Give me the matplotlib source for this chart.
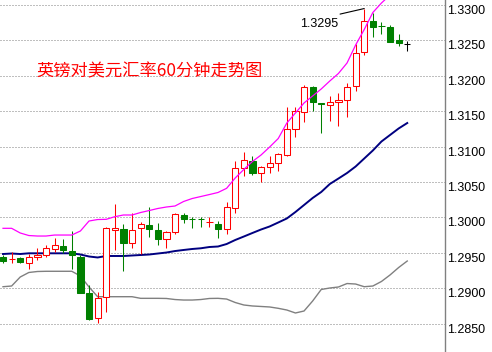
#!/usr/bin/env python
"""英镑对美元汇率 60 分钟 K 线走势图（带上/中/下轨）。

输出：out.png（492x352）
"""

import matplotlib

matplotlib.use("Agg")
import matplotlib.pyplot as plt
import numpy as np

# ============================================================
# 字体与样式配置
# ============================================================
plt.rcParams["font.family"] = ["Liberation Sans", "Noto Sans CJK SC", "DejaVu Sans"]
plt.rcParams["axes.unicode_minus"] = False

UP_COLOR = "#FF0000"
DOWN_COLOR = "#008000"
LAST_COLOR = "#000000"
UPPER_COLOR = "#FF00FF"
MIDDLE_COLOR = "#000080"
LOWER_COLOR = "#808080"
GRID_COLOR = "#808080"

TITLE = "英镑对美元汇率60分钟走势图"
DPI = 100

# ============================================================
# 数据
# ============================================================
OPEN = [
    1.29436, 1.29408, 1.29422, 1.29360, 1.29436, 1.29473, 1.29558, 1.29596,
    1.29521, 1.29445, 1.28928, 1.28575, 1.28880, 1.29818, 1.29836, 1.29643,
    1.29846, 1.29893, 1.29822, 1.29691, 1.29790, 1.30034, 1.29977, 1.29977,
    1.29939, 1.29903, 1.29832, 1.30129, 1.30694, 1.30801, 1.30631, 1.30708,
    1.30764, 1.30881, 1.31244, 1.31493, 1.31838, 1.31609, 1.31583, 1.31626,
    1.31658, 1.31856, 1.32332, 1.32778, 1.32710, 1.32685, 1.32506, 1.32449,
]
HIGH = [
    1.29469, 1.29516, 1.29441, 1.29479, 1.29564, 1.29610, 1.29705, 1.29691,
    1.29808, 1.29469, 1.29045, 1.28946, 1.29869, 1.30189, 1.29907, 1.30058,
    1.29931, 1.30147, 1.29917, 1.29812, 1.30062, 1.30058, 1.30010, 1.30010,
    1.30010, 1.29949, 1.30218, 1.30797, 1.30928, 1.30867, 1.30726, 1.30867,
    1.30910, 1.31555, 1.31555, 1.31870, 1.31860, 1.31612, 1.31719, 1.31761,
    1.31894, 1.32445, 1.32950, 1.32883, 1.32764, 1.32718, 1.32586, 1.32496,
]
LOW = [
    1.29352, 1.29360, 1.29352, 1.29275, 1.29398, 1.29445, 1.29507, 1.29501,
    1.29275, 1.28932, 1.28551, 1.28513, 1.28668, 1.29540, 1.29247, 1.29564,
    1.29479, 1.29719, 1.29610, 1.29564, 1.29761, 1.29925, 1.29846, 1.29860,
    1.29860, 1.29713, 1.29761, 1.30066, 1.30585, 1.30595, 1.30496, 1.30631,
    1.30660, 1.30867, 1.31140, 1.31352, 1.31507, 1.31196, 1.31366, 1.31295,
    1.31414, 1.31790, 1.32294, 1.32552, 1.32586, 1.32482, 1.32425, 1.32355,
]
CLOSE = [
    1.29384, 1.29408, 1.29374, 1.29436, 1.29473, 1.29564, 1.29606, 1.29540,
    1.29465, 1.28936, 1.28565, 1.28862, 1.29846, 1.29846, 1.29643, 1.29818,
    1.29907, 1.29840, 1.29691, 1.29790, 1.30044, 1.29973, 1.29972, 1.29972,
    1.29939, 1.29840, 1.30143, 1.30694, 1.30807, 1.30623, 1.30708, 1.30764,
    1.30895, 1.31244, 1.31503, 1.31838, 1.31634, 1.31595, 1.31626, 1.31662,
    1.31838, 1.32318, 1.32778, 1.32694, 1.32703, 1.32482, 1.32459, 1.32449,
]

# 上轨 / 中轨 / 下轨
UPPER = [
    1.29846, 1.29846, 1.29780, 1.29744, 1.29737, 1.29737, 1.29751, 1.29751,
    1.29751, 1.29808, 1.29949, 1.29970, 1.29973, 1.30010, 1.30034, 1.30034,
    1.30069, 1.30097, 1.30126, 1.30147, 1.30161, 1.30225, 1.30267, 1.30295,
    1.30323, 1.30352, 1.30411, 1.30557, 1.30677, 1.30790, 1.30881, 1.30994,
    1.31114, 1.31333, 1.31475, 1.31616, 1.31715, 1.31814, 1.31927, 1.32033,
    1.32181, 1.32435, 1.32654, 1.32894, 1.33028, 1.33141, 1.33226, 1.33282,
]
MIDDLE = [
    1.29483, 1.29490, 1.29483, 1.29493, 1.29493, 1.29493, 1.29493, 1.29493,
    1.29493, 1.29476, 1.29448, 1.29434, 1.29455, 1.29455, 1.29455, 1.29462,
    1.29469, 1.29476, 1.29490, 1.29504, 1.29525, 1.29540, 1.29554, 1.29564,
    1.29582, 1.29589, 1.29624, 1.29681, 1.29730, 1.29780, 1.29829, 1.29872,
    1.29928, 1.29985, 1.30076, 1.30175, 1.30274, 1.30359, 1.30472, 1.30549,
    1.30627, 1.30719, 1.30832, 1.30945, 1.31072, 1.31164, 1.31256, 1.31333,
]
LOWER = [
    1.29021, 1.29031, 1.29158, 1.29222, 1.29236, 1.29239, 1.29239, 1.29239,
    1.29239, 1.29172, 1.29017, 1.28880, 1.28880, 1.28880, 1.28880, 1.28880,
    1.28857, 1.28857, 1.28857, 1.28855, 1.28840, 1.28833, 1.28833, 1.28840,
    1.28855, 1.28857, 1.28847, 1.28798, 1.28763, 1.28749, 1.28742, 1.28735,
    1.28716, 1.28692, 1.28650, 1.28678, 1.28819, 1.28982, 1.29003, 1.29017,
    1.29066, 1.29059, 1.29021, 1.29031, 1.29095, 1.29187, 1.29292, 1.29384,
]

Y_TICKS = [1.2850, 1.2900, 1.2950, 1.3000, 1.3050, 1.3100, 1.3150, 1.3200, 1.3250, 1.3300]
Y_RANGE = (1.28099, 1.330706)


def draw_candles(ax, o, h, l, c):
    """绘制 K 线：阳线空心红框，阴线实心绿，最后一根为黑色十字。"""
    x = np.arange(len(o))
    colors = [UP_COLOR if ci >= oi else DOWN_COLOR for oi, ci in zip(o, c)]
    colors[-1] = LAST_COLOR
    faces = ["white" if col == UP_COLOR else col for col in colors]

    # 影线
    ax.vlines(x, l, h, colors=colors, linewidth=0.75, zorder=3)
    # 实体
    bottom = np.minimum(o, c)
    height = np.abs(np.array(c) - np.array(o))
    ax.bar(x, height, width=0.72, bottom=bottom, color=faces,
           edgecolor=colors, linewidth=0.75, zorder=4)


def main():
    fig = plt.figure(figsize=(4.92, 3.52), dpi=DPI)
    ax = fig.add_axes([0, 0, 445 / 492, 1])

    o = np.array(OPEN)
    h = np.array(HIGH)
    l = np.array(LOW)
    c = np.array(CLOSE)
    x = np.arange(len(o))

    # 三条轨道线
    ax.plot(x, UPPER, color=UPPER_COLOR, linewidth=0.9, zorder=5)
    ax.plot(x, MIDDLE, color=MIDDLE_COLOR, linewidth=1.4, zorder=2)
    ax.plot(x, LOWER, color=LOWER_COLOR, linewidth=1.0, zorder=2)

    draw_candles(ax, o, h, l, c)

    # 最高点标注
    pi = int(np.argmax(h))
    peak = h[pi]
    ax.annotate("", xy=(pi, peak), xytext=(-17.4, -4), textcoords="offset points",
                arrowprops=dict(arrowstyle="-", color="black", lw=0.8,
                                shrinkA=0, shrinkB=0))
    ax.annotate(f"{peak:.4f}", xy=(pi, peak), xytext=(-18.6, -13.5),
                textcoords="offset points", ha="right", va="baseline",
                fontsize=9, color="black")

    # 标题
    ax.text(36.7 / 445, 1 - 71.5 / 352, TITLE, transform=ax.transAxes,
            color="red", fontsize=12.4, family=["Noto Sans CJK SC"],
            ha="left", va="center")

    # 坐标轴
    ax.set_xlim(-0.35, 51.39)
    ax.set_ylim(*Y_RANGE)
    ax.set_xticks([])
    ax.yaxis.tick_right()
    ax.set_yticks(Y_TICKS)
    ax.set_yticklabels([f"{v:.4f}" for v in Y_TICKS])
    ax.tick_params(axis="y", length=0, pad=1.6, labelsize=9, labelcolor="black")
    for lab in ax.get_yticklabels():
        lab.set_va("top")
    ax.grid(axis="y", color=GRID_COLOR, linestyle=(0, (1, 2)), linewidth=0.72)
    for side in ["left", "top", "bottom"]:
        ax.spines[side].set_visible(False)
    ax.spines["right"].set_color("#808080")
    ax.spines["right"].set_linewidth(1.0)

    fig.savefig("out.png", dpi=DPI)
    plt.close(fig)


if __name__ == "__main__":
    main()
